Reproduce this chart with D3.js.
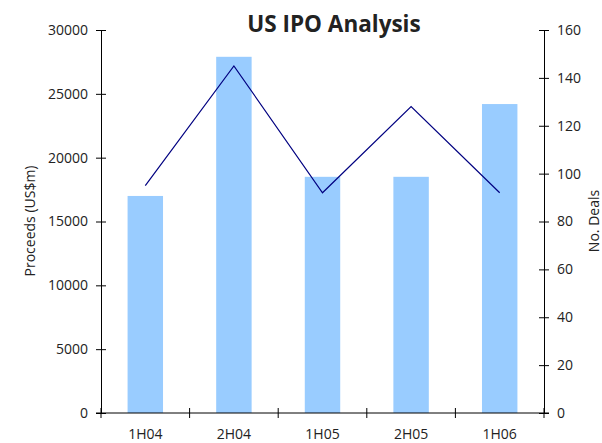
<!DOCTYPE html>
<html>
<head>
<meta charset="utf-8">
<script src="https://cdn.jsdelivr.net/npm/d3@7"></script>
<style>
  body { margin: 0; background: #fff; }
  svg text { font-family: "Open Sans", "Noto Sans", sans-serif; fill: #222; }
  .axis path, .axis line { stroke: #000; }
</style>
</head>
<body>
<svg id="chart" width="602" height="443"></svg>
<script>
// chart data
const periods = ['1H04', '2H04', '1H05', '2H05', '1H06'];
const proceeds = [17000, 27900, 18500, 18500, 24200];
const deals = [95, 145, 92, 128, 92];
const proceedTicks = [0, 5000, 10000, 15000, 20000, 25000, 30000];
const dealTicks = [0, 20, 40, 60, 80, 100, 120, 140, 160];

let svg = d3.select('#chart');
let plotLeft = 101, plotRight = 544, plotTop = 30, plotBottom = 413;

let x = d3.scaleBand()
    .domain(periods)
    .range([plotLeft, plotRight]);

let yLeft = d3.scaleLinear().domain([0, 30000]).range([plotBottom, plotTop]);
let yRight = d3.scaleLinear().domain([0, 160]).range([plotBottom, plotTop]);

// bars
svg.selectAll('rect.bar')
    .data(periods)
    .enter().append('rect')
    .attr('class', 'bar')
    .attr('x', d => x(d) + x.bandwidth() * 0.3)
    .attr('width', x.bandwidth() * 0.4)
    .attr('y', (d, i) => yLeft(proceeds[i]))
    .attr('height', (d, i) => plotBottom - yLeft(proceeds[i]))
    .attr('fill', '#99CCFF');

// deals line
let line = d3.line()
    .x((d, i) => x(periods[i]) + x.bandwidth() / 2)
    .y(d => yRight(d));

svg.append('path')
    .datum(deals)
    .attr('d', line)
    .attr('fill', 'none')
    .attr('stroke', '#000080')
    .attr('stroke-width', 1.2);

// axes
let leftAxis = svg.append('g')
    .attr('class', 'axis')
    .attr('transform', `translate(${plotLeft},0)`)
    .call(d3.axisLeft(yLeft).tickValues(proceedTicks).tickFormat(d3.format('d'))
        .tickSize(5).tickPadding(8).tickSizeOuter(0));
leftAxis.selectAll('.tick line').attr('x2', 5).attr('x1', -5);

let rightAxis = svg.append('g')
    .attr('class', 'axis')
    .attr('transform', `translate(${plotRight},0)`)
    .call(d3.axisRight(yRight).tickValues(dealTicks).tickFormat(d3.format('d'))
        .tickSize(5).tickPadding(8).tickSizeOuter(0));
rightAxis.selectAll('.tick line').attr('x1', -5).attr('x2', 5);

// x axis: ticks at band edges
let edges = periods.map(p => x(p)).concat([plotRight]);
let xAxis = svg.append('g')
    .attr('class', 'axis')
    .attr('transform', `translate(0,${plotBottom})`);
xAxis.append('line')
    .attr('x1', plotLeft - 5).attr('x2', plotRight + 5)
    .attr('stroke', '#000');
xAxis.selectAll('line.edge')
    .data(edges)
    .enter().append('line')
    .attr('class', 'edge')
    .attr('x1', d => d).attr('x2', d => d)
    .attr('y1', -5).attr('y2', 5)
    .attr('stroke', '#000');
xAxis.selectAll('text')
    .data(periods)
    .enter().append('text')
    .attr('x', d => x(d) + x.bandwidth() / 2)
    .attr('y', 26)
    .attr('text-anchor', 'middle')
    .style('font-size', '14px')
    .text(d => d);

svg.selectAll('.axis .tick text').style('font-size', '14px').attr('fill', '#222');
svg.selectAll('.axis path.domain').attr('stroke', '#000');

// titles
svg.append('text')
    .attr('x', 334)
    .attr('y', 32)
    .attr('text-anchor', 'middle')
    .style('font-size', '22.5px')
    .style('font-weight', 'bold')
    .attr('fill', '#000')
    .text('US IPO Analysis');

svg.append('text')
    .attr('transform', 'translate(35,221) rotate(-90)')
    .attr('text-anchor', 'middle')
    .style('font-size', '14px')
    .text('Proceeds (US$m)');

svg.append('text')
    .attr('transform', 'translate(599,221) rotate(-90)')
    .attr('text-anchor', 'middle')
    .style('font-size', '14px')
    .text('No. Deals');
</script>
</body>
</html>
